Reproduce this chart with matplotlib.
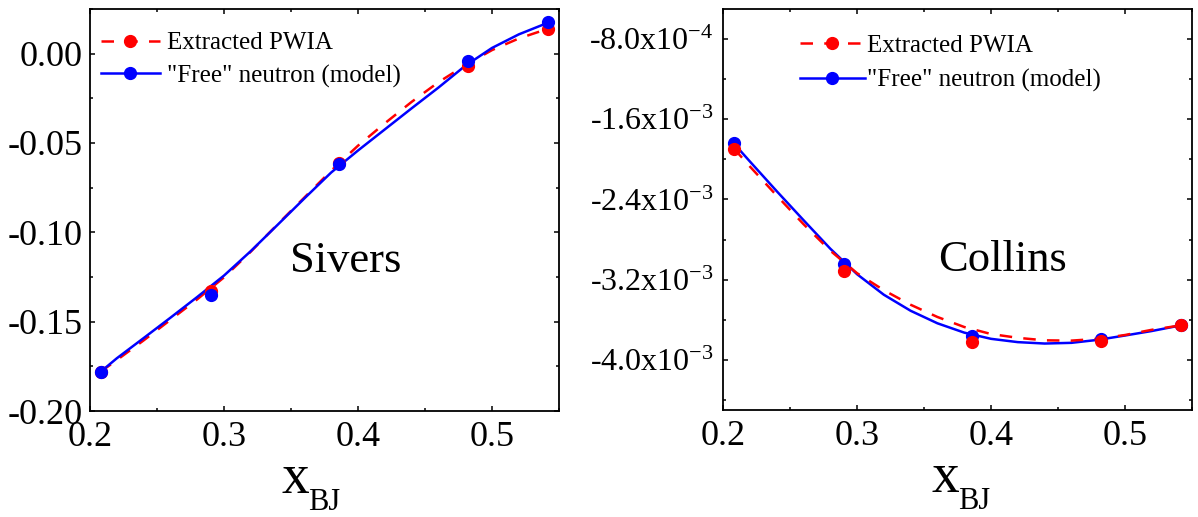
import matplotlib
matplotlib.use("Agg")
import matplotlib.pyplot as plt
from matplotlib.lines import Line2D
from matplotlib.ticker import MultipleLocator, FixedLocator, FormatStrFormatter

plt.rcParams['font.family'] = ['Liberation Serif', 'DejaVu Serif']
plt.rcParams['mathtext.fontset'] = 'custom'
plt.rcParams['mathtext.rm'] = 'Liberation Serif'
plt.rcParams['mathtext.it'] = 'Liberation Serif:italic'
plt.rcParams['axes.unicode_minus'] = False

# measured points
x_pts = [0.208, 0.290, 0.386, 0.482, 0.542]
sivers_pwia = [-0.178, -0.133, -0.061, -0.007, 0.014]
sivers_free = [-0.178, -0.135, -0.062, -0.004, 0.0175]
collins_pwia = [-1.895e-3, -3.114e-3, -3.823e-3, -3.810e-3, -3.655e-3]
collins_free = [-1.840e-3, -3.043e-3, -3.760e-3, -3.790e-3, -3.655e-3]

# smooth curves
x_curve = [0.208, 0.22, 0.24, 0.26, 0.28, 0.30, 0.32, 0.34, 0.36,
           0.38, 0.40, 0.42, 0.44, 0.46, 0.48, 0.50, 0.52, 0.542]
sivers_pwia_curve = [-0.178, -0.1715, -0.1605, -0.149, -0.1375, -0.1252, -0.1108, -0.0955, -0.0805,
                     -0.0655, -0.0515, -0.039, -0.027, -0.016, -0.0065, 0.002, 0.0085, 0.014]
sivers_free_curve = [-0.178, -0.1705, -0.1592, -0.1478, -0.1362, -0.1242, -0.1105, -0.0958, -0.081,
                     -0.0665, -0.0542, -0.0424, -0.0306, -0.019, -0.0068, 0.0032, 0.0108, 0.0174]
collins_pwia_curve = [-1.89e-3, -2.07e-3, -2.36e-3, -2.645e-3, -2.91e-3, -3.135e-3, -3.305e-3, -3.45e-3, -3.572e-3,
                      -3.672e-3, -3.742e-3, -3.78e-3, -3.805e-3, -3.808e-3, -3.79e-3, -3.752e-3, -3.70e-3, -3.655e-3]
collins_free_curve = [-1.84e-3, -2.02e-3, -2.316e-3, -2.605e-3, -2.89e-3, -3.145e-3, -3.35e-3, -3.51e-3, -3.635e-3,
                      -3.728e-3, -3.79e-3, -3.823e-3, -3.837e-3, -3.83e-3, -3.80e-3, -3.757e-3, -3.712e-3, -3.655e-3]

collins_ticks = [-8.0e-4, -1.6e-3, -2.4e-3, -3.2e-3, -4.0e-3]
collins_ticklabels = ['-8.0x10$^{-4}$', '-1.6x10$^{-3}$', '-2.4x10$^{-3}$',
                      '-3.2x10$^{-3}$', '-4.0x10$^{-3}$']

legend_labels = ['Extracted PWIA', '"Free" neutron (model)']

RED = '#ff0000'
BLUE = '#0000ff'
LW = 1.8
MS = 8.5
DASH = (5, 4.5)

fig = plt.figure(figsize=(11.98, 5.17), dpi=100)
ax1 = fig.add_axes([90 / 1198, 106 / 517, 469 / 1198, 402 / 517])
ax2 = fig.add_axes([723 / 1198, 107 / 517, 469 / 1198, 401 / 517])


def style_axis(ax, xlab_x):
    for sp in ax.spines.values():
        sp.set_linewidth(1.3)
    ax.tick_params(which='both', direction='in', top=True, right=True, width=1.1)
    ax.tick_params(which='major', length=3.8)
    ax.tick_params(which='minor', length=2.2)
    ax.tick_params(axis='x', labelsize=26, pad=7)
    ax.set_xlim(0.2, 0.55)
    ax.xaxis.set_major_locator(MultipleLocator(0.1))
    ax.xaxis.set_minor_locator(MultipleLocator(0.05))
    # x_BJ label: big "x", small lowered "BJ"
    ax.text(xlab_x, -0.204, 'x', transform=ax.transAxes, fontsize=40,
            ha='center', va='baseline')
    ax.text(xlab_x + 0.028, -0.246, 'BJ', transform=ax.transAxes, fontsize=22,
            ha='left', va='baseline')


# Sivers
ax1.plot(x_curve, sivers_free_curve, color=BLUE, lw=LW, zorder=3)
ax1.plot(x_curve, sivers_pwia_curve, color=RED, lw=LW, ls='--', dashes=DASH, zorder=2)
ax1.plot(x_pts, sivers_pwia, 'o', color=RED, ms=MS, zorder=4)
ax1.plot(x_pts, sivers_free, 'o', color=BLUE, ms=MS, zorder=5)
style_axis(ax1, 0.437)
ax1.set_ylim(-0.2, 0.025)
ax1.yaxis.set_major_locator(MultipleLocator(0.05))
ax1.yaxis.set_minor_locator(MultipleLocator(0.025))
ax1.yaxis.set_major_formatter(FormatStrFormatter('%.2f'))
ax1.tick_params(axis='y', labelsize=26, pad=5)
ax1.text(0.546, 0.346, 'Sivers', transform=ax1.transAxes, fontsize=32, ha='center', va='baseline')

# Collins
ax2.plot(x_curve, collins_free_curve, color=BLUE, lw=LW, zorder=2)
ax2.plot(x_curve, collins_pwia_curve, color=RED, lw=LW, ls='--', dashes=DASH, zorder=3)
ax2.plot(x_pts, collins_free, 'o', color=BLUE, ms=MS, zorder=4)
ax2.plot(x_pts, collins_pwia, 'o', color=RED, ms=MS, zorder=5)
style_axis(ax2, 0.473)
ax2.set_ylim(-4.5e-3, -5e-4)
ax2.yaxis.set_major_locator(FixedLocator(collins_ticks))
ax2.yaxis.set_minor_locator(MultipleLocator(4e-4))
ax2.set_yticklabels(collins_ticklabels)
ax2.tick_params(axis='y', labelsize=23, pad=7)
ax2.text(0.595, 0.346, 'Collins', transform=ax2.transAxes, fontsize=32, ha='center', va='baseline')

handles = [
    Line2D([], [], color=RED, lw=LW, ls='--', dashes=DASH, marker='o', ms=MS),
    Line2D([], [], color=BLUE, lw=LW, marker='o', ms=MS),
]
ax1.legend(handles, legend_labels, loc='upper left', bbox_to_anchor=(0.023, 0.943),
           frameon=False, fontsize=18, numpoints=1, handlelength=2.36, handletextpad=0.28,
           labelspacing=0.4, borderpad=0, borderaxespad=0)
ax2.legend(handles, legend_labels, loc='upper left', bbox_to_anchor=(0.164, 0.937),
           frameon=False, fontsize=18, numpoints=1, handlelength=2.6, handletextpad=0.1,
           labelspacing=0.5, borderpad=0, borderaxespad=0)

fig.savefig('out.png', dpi=100)
